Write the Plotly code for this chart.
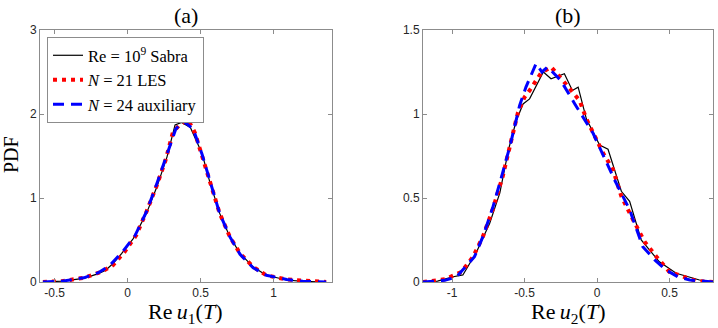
import plotly.graph_objects as go

# ── panel (a): Re u1(T) ──────────────────────────────────────────────────────
a_sabra_x = [-0.58, -0.45, -0.30, -0.20, -0.15, -0.10, -0.04, 0.04, 0.13, 0.20, 0.27, 0.325,
             0.37, 0.43, 0.51, 0.56, 0.63, 0.70, 0.77, 0.86, 0.95, 1.09, 1.20, 1.36]
a_sabra_y = [0.0, 0.01, 0.044, 0.10, 0.14, 0.22, 0.34, 0.52, 0.82, 1.13, 1.49, 1.87,
             1.90, 1.84, 1.53, 1.21, 0.82, 0.54, 0.34, 0.18, 0.08, 0.024, 0.008, 0.0]

a_les_x = [-0.58, -0.45, -0.30, -0.18, -0.10, -0.02, 0.06, 0.13, 0.20, 0.26, 0.31, 0.36,
           0.415, 0.46, 0.51, 0.57, 0.63, 0.70, 0.77, 0.86, 0.95, 1.09, 1.22, 1.36]
a_les_y = [0.0, 0.01, 0.05, 0.12, 0.20, 0.36, 0.56, 0.84, 1.15, 1.45, 1.78, 1.88,
           1.93, 1.78, 1.50, 1.17, 0.82, 0.54, 0.34, 0.18, 0.08, 0.03, 0.01, 0.0]

a_aux_x = [-0.58, -0.45, -0.30, -0.20, -0.12, -0.03, 0.05, 0.13, 0.20, 0.27, 0.33, 0.38,
           0.45, 0.51, 0.57, 0.63, 0.70, 0.77, 0.86, 0.95, 1.09, 1.20, 1.36]
a_aux_y = [0.0, 0.01, 0.05, 0.11, 0.20, 0.37, 0.55, 0.84, 1.17, 1.52, 1.82, 1.92,
           1.82, 1.52, 1.17, 0.82, 0.54, 0.33, 0.17, 0.08, 0.03, 0.01, 0.0]

# ── panel (b): Re u2(T) ──────────────────────────────────────────────────────
b_sabra_x = [-1.2, -1.1, -1.0, -0.925, -0.83, -0.74, -0.67, -0.61, -0.557, -0.51, -0.465,
             -0.37, -0.317, -0.225, -0.17, -0.13, -0.073, 0.018, 0.076, 0.168, 0.225,
             0.305, 0.43, 0.546, 0.707, 0.8]
b_sabra_y = [0.0, 0.005, 0.03, 0.042, 0.18, 0.35, 0.53, 0.79, 0.96, 1.06, 1.09,
             1.25, 1.21, 1.24, 1.14, 1.16, 0.97, 0.815, 0.79, 0.54, 0.48,
             0.25, 0.12, 0.052, 0.012, 0.0]

b_les_x = [-1.2, -1.05, -0.935, -0.855, -0.787, -0.72, -0.65, -0.59, -0.545, -0.50, -0.465,
           -0.385, -0.317, -0.236, -0.19, -0.12, -0.073, -0.004, 0.04, 0.11, 0.168, 0.237,
           0.328, 0.41, 0.5, 0.684, 0.8]
b_les_y = [0.0, 0.016, 0.06, 0.15, 0.27, 0.43, 0.63, 0.85, 1.01, 1.10, 1.14,
           1.245, 1.28, 1.20, 1.15, 1.08, 0.97, 0.845, 0.77, 0.67, 0.51, 0.39,
           0.24, 0.15, 0.06, 0.006, 0.0]

b_aux_x = [-1.2, -1.05, -0.97, -0.845, -0.787, -0.72, -0.67, -0.60, -0.534, -0.49, -0.42,
           -0.38, -0.34, -0.25, -0.153, -0.027, 0.12, 0.225, 0.316, 0.40, 0.477, 0.56,
           0.64, 0.8]
b_aux_y = [0.0, 0.01, 0.03, 0.15, 0.27, 0.44, 0.59, 0.81, 1.05, 1.16, 1.30,
           1.25, 1.28, 1.20, 1.06, 0.885, 0.61, 0.43, 0.21, 0.13, 0.071, 0.03,
           0.012, 0.0]

names = ["Re = 10<sup>9</sup> Sabra", "<i>N</i> = 21 LES", "<i>N</i> = 24 auxiliary"]

SERIF = "Liberation Serif, Times New Roman, serif"
SANS  = "Liberation Sans, Arial, sans-serif"
AXCOL = "#8c8c8c"

styles = [
    dict(color="black", width=1.2, dash="solid"),
    dict(color="#ff0000", width=4, dash="4px,5px"),
    dict(color="#0000ff", width=3, dash="11px,7px"),
]

fig = go.Figure()
panels = [
    ("x", "y", [(a_sabra_x, a_sabra_y), (a_les_x, a_les_y), (a_aux_x, a_aux_y)]),
    ("x2", "y2", [(b_sabra_x, b_sabra_y), (b_les_x, b_les_y), (b_aux_x, b_aux_y)]),
]
for p, (xa, ya, series) in enumerate(panels):
    for i, (xs, ys) in enumerate(series):
        fig.add_trace(go.Scatter(
            x=xs, y=ys, mode="lines", name=names[i], line=styles[i],
            xaxis=xa, yaxis=ya, showlegend=(p == 0),
        ))

axis_common = dict(
    showline=True, linecolor=AXCOL, linewidth=1, mirror="ticks",
    ticks="inside", ticklen=4, tickcolor=AXCOL, showgrid=False, zeroline=False,
    tickfont=dict(family=SANS, size=12, color="#262626"),
)

fig.update_layout(
    width=718, height=328,
    margin=dict(l=0, r=0, t=30, b=46),
    plot_bgcolor="white", paper_bgcolor="white",
    xaxis=dict(domain=[40 / 718, 332 / 718], range=[-0.6, 1.4],
               tickvals=[-0.5, 0, 0.5, 1], ticktext=["-0.5", "0", "0.5", "1"], **axis_common),
    yaxis=dict(domain=[0, 1], range=[0, 3], tickvals=[0, 1, 2, 3], **axis_common),
    xaxis2=dict(domain=[423 / 718, 713 / 718], range=[-1.2, 0.8], anchor="y2",
                tickvals=[-1, -0.5, 0, 0.5], ticktext=["-1", "-0.5", "0", "0.5"], **axis_common),
    yaxis2=dict(domain=[0, 1], range=[0, 1.5], anchor="x2",
                tickvals=[0, 0.5, 1, 1.5], ticktext=["0", "0.5", "1", "1.5"], **axis_common),
    legend=dict(
        x=47 / 718, y=0.972, xanchor="left", yanchor="top",
        bgcolor="white", bordercolor=AXCOL, borderwidth=1,
        font=dict(family=SERIF, size=16.5, color="black"),
        itemwidth=30, tracegroupgap=0,
    ),
    showlegend=True,
)

# (text, centre x px, centre y px, angle, size) -- plot area spans 30..282 px vertically
annotations = [
    ("(a)", 186, 16, 0, 22),
    ("(b)", 568, 16, 0, 22),
    ("Re&#8201;<i>u</i><sub>1</sub>(<i>T</i>)", 185, 313, 0, 22),
    ("Re&#8201;<i>u</i><sub>2</sub>(<i>T</i>)", 568, 313, 0, 22),
    ("PDF", 11, 155, -90, 20),
]
for text, xp, yp, ang, size in annotations:
    fig.add_annotation(
        text=text, x=xp / 718, y=(282 - yp) / 252,
        xref="paper", yref="paper", showarrow=False,
        font=dict(family=SERIF, size=size, color="black"),
        textangle=ang, xanchor="center", yanchor="middle",
    )

fig.write_html("out.html", config={"displayModeBar": False},
               post_script="document.body.style.margin='0';")
